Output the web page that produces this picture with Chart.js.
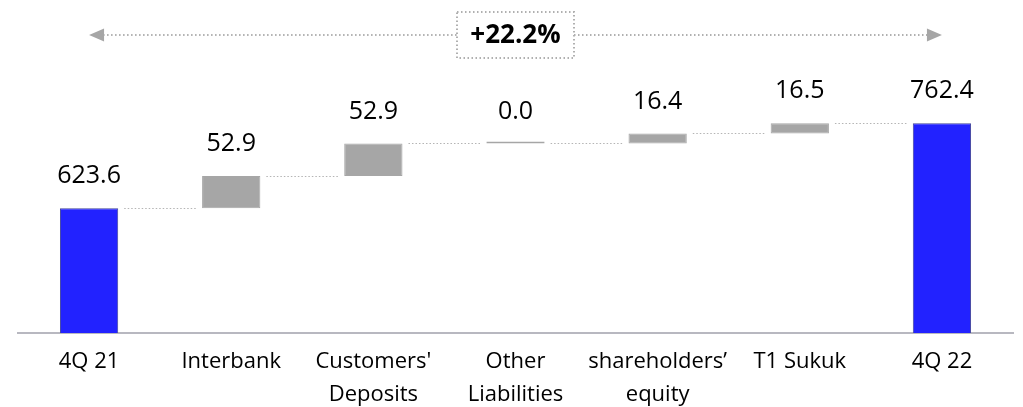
<!DOCTYPE html>
<html>
<head>
<meta charset="utf-8">
<script src="https://cdn.jsdelivr.net/npm/chart.js@4.4.0/dist/chart.umd.min.js"></script>
<style>
  html, body { margin: 0; padding: 0; background: #fff; }
  #wrap { width: 1023px; height: 407px; }
</style>
</head>
<body>
<div id="wrap"><canvas id="myChart"></canvas></div>
<script>
// chart values
var categories = [['4Q 21'], ['Interbank'], ["Customers'", 'Deposits'], ['Other', 'Liabilities'], ['shareholders\u2019', 'equity'], ['T1 Sukuk'], ['4Q 22']];
var totals  = [623.6, null, null, null, null, null, 762.4];
var changes = [null, 52.9, 52.9, 0.0, 16.4, 16.5, null];
var growthText = '+22.2%';
var axisMin = 420;
var axisMax = 931;

// build floating bars from the arrays
var bars = [];
var levels = [];
var colors = [];
var borders = [];
var level = 0;
var $each = function(arr, fn){ for (var i = 0; i < arr.length; i++) fn(i, arr[i]); };
$each(categories, function(i){
    if (totals[i] !== null) {
        bars.push([0, totals[i]]);
        level = totals[i];
        colors.push('#2222ff');
        borders.push('#41449a');
    } else {
        bars.push([level, level + changes[i]]);
        level = level + changes[i];
        colors.push('#a6a6a6');
        borders.push('#a6a6a6');
    }
    levels.push(level);
});

var fontFamily = '"Open Sans", "Noto Sans", sans-serif';

var waterfallExtras = {
    id: 'waterfallExtras',
    afterDatasetsDraw: function(chart){
        var ctx = chart.ctx;
        var x = chart.scales.x;
        var y = chart.scales.y;
        var meta = chart.getDatasetMeta(0);

        // dotted connectors between bars
        ctx.save();
        ctx.strokeStyle = '#b4b4b4';
        ctx.lineWidth = 1;
        ctx.setLineDash([1.5, 2]);
        for (var i = 0; i < meta.data.length - 1; i++) {
            var b = meta.data[i], n = meta.data[i + 1];
            var yy = Math.round(y.getPixelForValue(levels[i])) + 0.5;
            ctx.beginPath();
            ctx.moveTo(b.x + b.width / 2 + 6, yy);
            ctx.lineTo(n.x - n.width / 2 - 6, yy);
            ctx.stroke();
        }
        ctx.restore();

        // value labels
        ctx.save();
        ctx.fillStyle = '#000';
        ctx.font = '25px ' + fontFamily;
        ctx.textAlign = 'center';
        ctx.textBaseline = 'middle';
        $each(meta.data, function(i, b){
            var v = totals[i] !== null ? totals[i] : changes[i];
            var top = y.getPixelForValue(bars[i][1]);
            ctx.fillText(v.toFixed(1), b.x, top - 32);
        });
        ctx.restore();

        // growth arrow on top
        var x0 = x.getPixelForValue(0);
        var x1 = x.getPixelForValue(categories.length - 1);
        var cx = (x0 + x1) / 2;
        var ay = 35;
        var boxW = 117, boxH = 46;
        ctx.save();
        ctx.strokeStyle = '#b0b0b0';
        ctx.lineWidth = 2;
        ctx.setLineDash([1.5, 2.5]);
        ctx.beginPath();
        ctx.moveTo(x0 + 14, ay);
        ctx.lineTo(cx - boxW / 2, ay);
        ctx.moveTo(cx + boxW / 2, ay);
        ctx.lineTo(x1 - 14, ay);
        ctx.stroke();
        ctx.strokeRect(cx - boxW / 2, ay - boxH / 2, boxW, boxH);
        ctx.setLineDash([]);
        ctx.fillStyle = '#a6a6a6';
        ctx.beginPath();
        ctx.moveTo(x0, ay);
        ctx.lineTo(x0 + 15, ay - 6.5);
        ctx.lineTo(x0 + 15, ay + 6.5);
        ctx.closePath();
        ctx.fill();
        ctx.beginPath();
        ctx.moveTo(x1, ay);
        ctx.lineTo(x1 - 15, ay - 6.5);
        ctx.lineTo(x1 - 15, ay + 6.5);
        ctx.closePath();
        ctx.fill();
        ctx.fillStyle = '#000';
        ctx.font = 'bold 26px ' + fontFamily;
        ctx.textAlign = 'center';
        ctx.textBaseline = 'middle';
        ctx.fillText(growthText, cx, ay + 1);
        ctx.restore();
    }
};

var ctx = document.getElementById('myChart').getContext('2d');
var myChart = new Chart(ctx, {
    type: 'bar',
    data: {
        labels: categories,
        datasets: [{
            label: 'Balance',
            data: bars,
            backgroundColor: colors,
            borderColor: borders,
            borderWidth: 1,
            borderSkipped: false,
            barPercentage: 0.41,
            categoryPercentage: 1,
            minBarLength: 2
        }]
    },
    options: {
        responsive: true,
        maintainAspectRatio: false,
        animation: false,
        layout: { padding: { top: 20, left: 18, right: 10, bottom: 0 } },
        plugins: {
            legend: { display: false },
            tooltip: { enabled: false }
        },
        scales: {
            x: {
                afterFit: function(scale){ scale.height = 74; },
                grid: { display: false, drawTicks: false },
                border: { display: true, color: '#b8b8c0', width: 2 },
                ticks: {
                    color: '#000',
                    padding: 12,
                    maxRotation: 0,
                    autoSkip: false,
                    font: { family: fontFamily, size: 22, lineHeight: 1.5 }
                }
            },
            y: {
                display: false,
                min: axisMin,
                max: axisMax
            }
        }
    },
    plugins: [waterfallExtras]
});
</script>
</body>
</html>
